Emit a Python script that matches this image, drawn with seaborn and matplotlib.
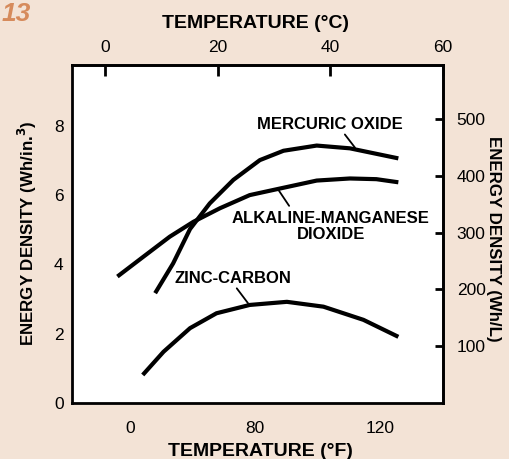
import numpy as np
import pandas as pd
import seaborn as sns
import matplotlib.pyplot as plt

# Curves (x in deg C, y in Wh/in.^3)
zinc_x = [6.7, 10.4, 15.1, 19.8, 25.7, 32.3, 38.8, 45.9, 52.1]
zinc_y = [0.81, 1.48, 2.16, 2.59, 2.83, 2.92, 2.78, 2.40, 1.91]

alk_x = [2.2, 6.8, 11.5, 15.7, 20.4, 25.7, 30.5, 37.6, 43.5, 48.2, 52.1]
alk_y = [3.65, 4.22, 4.80, 5.23, 5.62, 6.00, 6.17, 6.42, 6.48, 6.46, 6.37]

merc_x = [8.9, 12.1, 15.1, 18.6, 22.8, 27.5, 31.7, 37.6, 43.5, 52.1]
merc_y = [3.17, 4.03, 5.02, 5.76, 6.44, 7.01, 7.28, 7.43, 7.35, 7.06]

top_ticks = [0, 20, 40, 60]
bottom_ticks_f = [40, 60, 80, 100, 120]
bottom_labels = ['0', '', '80', '', '120']
left_ticks = [0, 2, 4, 6, 8]
right_ticks = [100, 200, 300, 400, 500]

bg = '#F3E3D6'
sns.set_style('white')
plt.rcParams['font.family'] = ['Liberation Sans', 'DejaVu Sans']
plt.rcParams['text.color'] = 'black'
plt.rcParams['xtick.color'] = 'black'
plt.rcParams['ytick.color'] = 'black'

fig = plt.figure(figsize=(5.09, 4.59), dpi=100, facecolor=bg)
ax = fig.add_axes([0.1415, 0.122, 0.7285, 0.736])
ax.set_facecolor('white')

for xs, ys in [(zinc_x, zinc_y), (alk_x, alk_y), (merc_x, merc_y)]:
    df = pd.DataFrame({'x': xs, 'y': ys})
    sns.lineplot(data=df, x='x', y='y', color='black', lw=3.0, ax=ax,
                 solid_capstyle='butt', solid_joinstyle='round')

ax.set_xlim(-5.86, 60)
ax.set_ylim(0, 9.75)
ax.set_xlabel('')
ax.set_ylabel('')

for s in ax.spines.values():
    s.set_linewidth(2)
    s.set_color('black')

# bottom (deg F) ticks
ax.set_xticks([(f - 32) / 1.8 for f in bottom_ticks_f])
ax.set_xticklabels(bottom_labels)
ax.set_yticks(left_ticks)
ax.tick_params(axis='x', direction='in', length=8, width=2, pad=13, labelsize=12.5)
ax.tick_params(axis='y', direction='in', length=9, width=2, pad=6, labelsize=12.5)

# top (deg C) ticks
top = ax.secondary_xaxis('top')
top.set_xticks(top_ticks)
top.tick_params(direction='in', length=8, width=2, pad=7, labelsize=12.5)
top.spines['top'].set_linewidth(2)

# right (Wh/L) ticks
right = ax.secondary_yaxis('right', functions=(lambda v: v * 61.02, lambda v: v / 61.02))
right.set_yticks(right_ticks)
right.tick_params(direction='in', length=6, width=2, pad=10, labelsize=12.5)
right.spines['right'].set_linewidth(2)

# curve labels
ax.text(39.9, 8.05, 'MERCURIC OXIDE', ha='center', va='center', fontsize=12, fontweight='bold')
ax.plot([42.6, 44.4], [7.75, 7.37], color='black', lw=1.3)
ax.text(40.1, 5.09, 'ALKALINE-MANGANESE\nDIOXIDE', ha='center', va='center',
        fontsize=12, fontweight='bold', linespacing=1.1)
ax.plot([32.7, 30.8], [5.69, 6.15], color='black', lw=1.3)
ax.text(22.7, 3.6, 'ZINC-CARBON', ha='center', va='center', fontsize=12, fontweight='bold')
ax.plot([23.4, 25.4], [3.31, 2.88], color='black', lw=1.3)

# axis titles
fig.text(255 / 509, 1 - 24 / 459, 'TEMPERATURE (°C)', ha='center', va='center',
         fontsize=14, fontweight='bold')
fig.text(260 / 509, 1 - 451 / 459, 'TEMPERATURE (°F)', ha='center', va='center',
         fontsize=14, fontweight='bold')
fig.text(27.5 / 509, 1 - 233.5 / 459, 'ENERGY DENSITY (Wh/in.$^\\mathbf{3}$)', ha='center', va='center',
         rotation=90, fontsize=12.2, fontweight='bold')
fig.text(494 / 509, 1 - 239 / 459, 'ENERGY DENSITY (Wh/L)', ha='center', va='center',
         rotation=-90, fontsize=12.2, fontweight='bold')
fig.text(2 / 509, 1 - 14 / 459, '13', ha='left', va='center', fontsize=19,
         fontweight='bold', style='italic', color='#D68B5C')

fig.savefig('out.png', dpi=100, facecolor=bg)
